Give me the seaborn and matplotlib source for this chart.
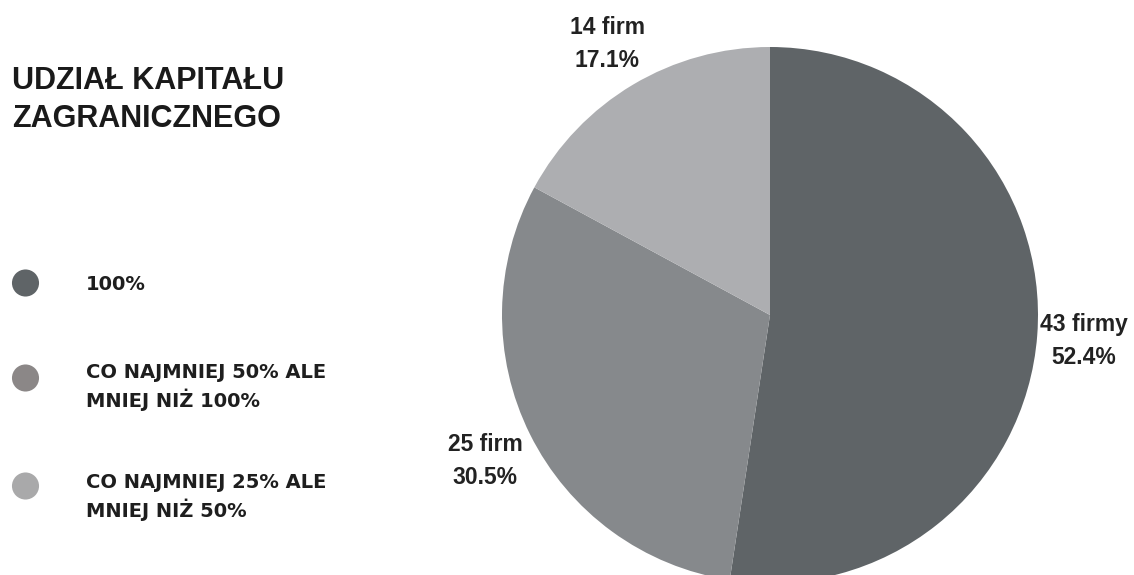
import matplotlib
matplotlib.use("Agg")
import matplotlib.pyplot as plt
import seaborn as sns
import pandas as pd

categories = ["100%", "CO NAJMNIEJ 50% ALE\nMNIEJ NIŻ 100%", "CO NAJMNIEJ 25% ALE\nMNIEJ NIŻ 50%"]
counts = [43, 25, 14]
count_labels = ["43 firmy", "25 firm", "14 firm"]
percents = [52.4, 30.5, 17.1]
title = "UDZIAŁ KAPITAŁU\nZAGRANICZNEGO"

pie_colors = ["#5f6467", "#86898c", "#adaeb1"]
dot_colors = ["#5f6467", "#8b8787", "#a9a9aa"]

sns.set_theme(style="white")
plt.rcParams["font.family"] = ["Liberation Sans", "DejaVu Sans"]

W, H = 1134, 575
fig = plt.figure(figsize=(W / 100, H / 100), dpi=100)
fig.patch.set_facecolor("white")

# Pie axes (pixel placement)
cx, cy, r = 770, 315, 268
ax = fig.add_axes([(cx - r) / W, (H - cy - r) / H, 2 * r / W, 2 * r / H])
ax.pie(percents, colors=pie_colors, startangle=90, counterclock=False,
       radius=1.0, wedgeprops=dict(linewidth=0))
ax.set_xlim(-1, 1)
ax.set_ylim(-1, 1)
ax.set_aspect("equal")
ax.axis("off")

# Slice labels
label_pos = [(1084, 341), (485, 461), (607, 44)]
for (x, y), cl, p in zip(label_pos, count_labels, percents):
    fig.text(x / W, 1 - y / H, f"{cl}\n{p:.1f}%", ha="center", va="center",
             fontsize=16.5, fontweight="bold", color="#222222", linespacing=1.58,
             family=["Liberation Sans", "DejaVu Sans"])

# Title
fig.text(12 / W, 1 - 100 / H, title, ha="left", va="center", fontsize=22,
         fontweight="bold", color="#1a1a1a", linespacing=1.33)

# Legend with seaborn scatter on an overlay axis
lax = fig.add_axes([0, 0, 1, 1])
lax.set_xlim(0, W)
lax.set_ylim(H, 0)
lax.axis("off")
dot_y = [283, 378, 486]
df = pd.DataFrame({"x": [25.5] * 3, "y": dot_y, "cat": categories})
sns.scatterplot(data=df, x="x", y="y", hue="cat", palette=dict(zip(categories, dot_colors)),
                s=380, linewidth=0, legend=False, ax=lax)
lax.axis("off")
text_y = [285, 387, 497]
for ty, c in zip(text_y, categories):
    lax.text(86, ty, c, ha="left", va="center", fontsize=14, fontweight="bold",
             color="#1e1e1e", linespacing=1.35, family=["DejaVu Sans"])

fig.savefig("out.png", dpi=100, facecolor="white")
